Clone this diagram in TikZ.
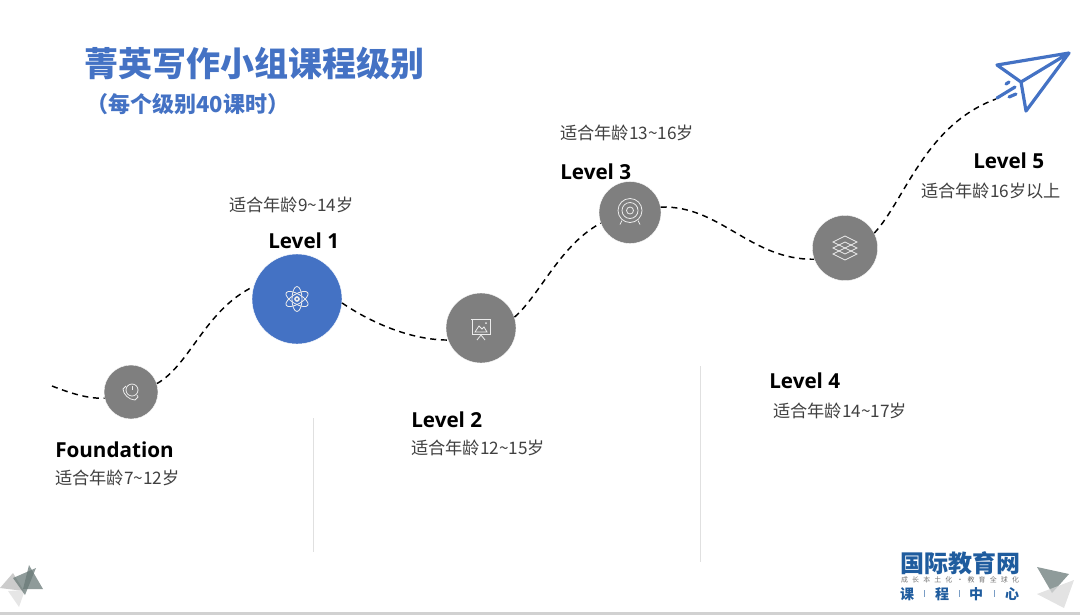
\documentclass[tikz,border=0pt]{standalone}
\usepackage{xcolor}
\usepackage{fontspec}
\setmainfont{Open Sans}
\newfontfamily\cjk{Noto Sans CJK SC}
\newfontfamily\cjkwide[LetterSpace=60]{Noto Sans CJK SC}
\usetikzlibrary{positioning, arrows.meta, shapes.geometric}

\definecolor{titleblue}{HTML}{4472C4}
\definecolor{dotgrey}{HTML}{7F7F7F}
\definecolor{agegrey}{HTML}{404040}
\definecolor{logoblue}{HTML}{1F5C9E}
\definecolor{cornergrey}{HTML}{6A7A78}

\tikzset{
    stepdot/.style={draw=white, line width=0.3pt, circle, fill=dotgrey, inner sep=0pt},
    levellabel/.style={inner sep=0pt, font=\fontsize{15.5}{18}\selectfont\bfseries, text=black},
    agelabel/.style={inner sep=0pt, font=\cjk\fontsize{12.9}{15}\selectfont, text=agegrey},
    pathline/.style={draw=black, line width=1.1pt, dash pattern=on 4.5pt off 3.5pt},
    iconline/.style={draw=white!85!dotgrey, line width=0.6pt},
    divider/.style={draw=black!12, line width=0.5pt},
    planeline/.style={draw=titleblue, line width=2.4pt, line join=round, line cap=round},
    logochar/.style={inner sep=0pt, text=logoblue, font=\cjk\bfseries\fontsize{10.5}{12}\selectfont}
}

\begin{document}
\begin{tikzpicture}[x=0.75pt, y=-0.75pt]
    \useasboundingbox (0,0) rectangle (1080,615);

    % Title
    \node (title) [anchor=west, inner sep=0pt, text=titleblue, font=\cjk\bfseries\fontsize{25.5}{30}\selectfont] at (84,63) {菁英写作小组课程级别};
    \node (subtitle) [anchor=west, inner sep=0pt, text=titleblue, font=\cjk\bfseries\fontsize{16.5}{20}\selectfont] at (86,104) {（每个级别40课时）};

    % Steps
    \node (foundation) [stepdot, minimum size=40.5pt] at (131,392) {};
    \node (level1) [stepdot, fill=titleblue, minimum size=67.5pt] at (297,299) {};
    \node (level2) [stepdot, minimum size=52.5pt] at (481,328) {};
    \node (level3) [stepdot, minimum size=46.5pt] at (630,212.5) {};
    \node (level4) [stepdot, minimum size=49pt] at (845,248) {};

    % Labels
    \node (foundationname) [levellabel, anchor=west] at (55,450) {Foundation};
    \node (foundationage) [agelabel, anchor=west] at (55,478) {适合年龄7\textasciitilde12岁};
    \node (level1name) [levellabel, anchor=west] at (268,241) {Level 1};
    \node (level1age) [agelabel, anchor=west] at (229,205) {适合年龄9\textasciitilde14岁};
    \node (level2name) [levellabel, anchor=west] at (411,420) {Level 2};
    \node (level2age) [agelabel, anchor=west] at (411,448) {适合年龄12\textasciitilde15岁};
    \node (level3name) [levellabel, anchor=west] at (560,172) {Level 3};
    \node (level3age) [agelabel, anchor=west] at (560,133) {适合年龄13\textasciitilde16岁};
    \node (level4name) [levellabel, anchor=west] at (769,381) {Level 4};
    \node (level4age) [agelabel, anchor=west] at (773,411) {适合年龄14\textasciitilde17岁};
    \node (level5name) [levellabel, anchor=west] at (973,161) {Level 5};
    \node (level5age) [agelabel, anchor=west] at (921,191) {适合年龄16岁以上};

    % Dashed path
    \coordinate (pathstart) at (52,386);
    \coordinate (planetail) at (996,99);
    \draw[pathline] (pathstart) .. controls (70,393) and (88,399) .. (foundation.193);
    \draw[pathline] (foundation.18) .. controls (190,365) and (205,310) .. (level1.164);
    \draw[pathline] (level1.-5) .. controls (370,322) and (410,340) .. (level2.200);
    \draw[pathline] (level2.18) .. controls (540,295) and (560,245) .. (level3.200);
    \draw[pathline] (level3.10) .. controls (720,205) and (750,260) .. (level4.200);
    \draw[pathline] (level4.27) .. controls (905,200) and (925,125) .. (planetail);

    % Dividers
    \coordinate (divider1top) at (313,418);
    \coordinate (divider1end) at (313,552);
    \coordinate (divider2top) at (700,366);
    \coordinate (divider2end) at (700,562);
    \draw[divider] (divider1top) -- (divider1end);
    \draw[divider] (divider2top) -- (divider2end);

    % Plane
    \draw[planeline] (1069,53) -- (997,65) -- (1021,82) -- (1069,53) -- (1026,111) -- (1021,82);
    \draw[planeline] (997,98) -- (1015,87);
    \draw[planeline] (1009,97) -- (1016,94);
    \draw[planeline] (1006,84) -- (1009,82);

    % Icons
    \begin{scope}[shift={(foundation)}]
        \draw[iconline] (1,-2) circle (6);
        \draw[iconline] (1,-6) -- (1,-2);
        \draw[iconline] (-5,-6) -- (-8,-3) .. controls (-8,2) and (-2,8) .. (4,8) -- (7,5) -- (6,3);
    \end{scope}
    \begin{scope}[shift={(level1)}]
        \foreach \tilt in {90,30,150} {
            \draw[iconline, rotate=\tilt] (0,0) ellipse (12.5 and 5);
        }
        \draw[iconline, line width=1.2pt] (0,0) circle (2);
    \end{scope}
    \begin{scope}[shift={(level2)}]
        \draw[iconline] (-10,-9) -- (10,-9);
        \draw[iconline] (-9,-9) rectangle (9,6);
        \draw[iconline] (-6,4) -- (-2,-2) -- (1,1) -- (3,-1) -- (6,4) -- cycle;
        \fill[white!85!dotgrey] (5,-5) circle (1);
        \draw[iconline] (-4,12) -- (0,7) -- (4,12);
    \end{scope}
    \begin{scope}[shift={(level3)}]
        \draw[iconline] (0,-2) circle (12);
        \draw[iconline] (0,-2) circle (8);
        \draw[iconline] (0,-2) circle (3.5);
        \draw[iconline] (-8,8) -- (-10,12);
        \draw[iconline] (8,8) -- (10,12);
    \end{scope}
    \begin{scope}[shift={(level4)}]
        \foreach \lift in {6,0,-6} {
            \draw[iconline] (-12,\lift) -- (0,\lift-6) -- (12,\lift) -- (0,\lift+6) -- cycle;
        }
    \end{scope}

    % Logo
    \node (logoname) [inner sep=0pt, text=logoblue, font=\cjk\bfseries\fontsize{18}{20}\selectfont] at (960,563) {国际教育网};
    \node (logoslogan) [inner sep=0pt, text=black!55, font=\cjkwide\fontsize{5.2}{6}\selectfont] at (960,579.5) {成长本土化·教育全球化};
    \node (logoke) [logochar] at (907,594) {课};
    \node (logocheng) [logochar] at (942,594) {程};
    \node (logozhong) [logochar] at (976,594) {中};
    \node (logoxin) [logochar] at (1012,594) {心};
    \draw[logoblue!60, line width=0.5pt] (924.5,590) -- (924.5,597) (959,590) -- (959,597) (994,590) -- (994,597);

    % Corners
    \fill[black!25, opacity=0.8] (0,588) -- (13,573) -- (24,591) -- cycle;
    \fill[black!12, opacity=0.8] (8,591) -- (25,590) -- (19,607) -- cycle;
    \fill[cornergrey, opacity=0.75] (13,578) -- (36,568) -- (25,595) -- cycle;
    \fill[cornergrey, opacity=0.75] (29,565) -- (43,589) -- (23,589) -- cycle;
    \fill[cornergrey, opacity=0.75] (1037,567) -- (1069,574) -- (1052,593) -- cycle;
    \fill[black!15, opacity=0.75] (1037,594) -- (1074,580) -- (1064,608) -- cycle;

    % Bottom edge
    \fill[black!18] (0,612) rectangle (1080,615);
\end{tikzpicture}
\end{document}
